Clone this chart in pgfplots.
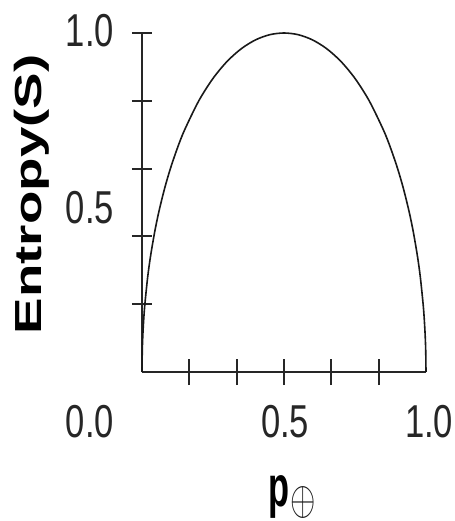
\documentclass[border=0pt]{standalone}
\usepackage{fontspec}
\usepackage{graphicx}
\usepackage{pgfplots}
\pgfplotsset{compat=1.18}
\setmainfont{Liberation Sans}[FakeStretch=0.75]
\newfontfamily\widebold{Liberation Sans}[FakeStretch=1.45]

\begin{document}
\begin{tikzpicture}
\begin{axis}[
    at={(0pt,0pt)}, anchor=south west,
    scale only axis,
    width=213pt, height=254.25pt,
    xmin=0, xmax=1, ymin=0, ymax=1,
    axis lines=left,
    axis line style={-, line width=1.4pt, black!85},
    xtick={0.1667,0.3333,0.5,0.6667,0.8333},
    ytick={0.2,0.4,0.6,0.8,1.0},
    xticklabels={}, yticklabels={},
    tick align=center,
    tick style={line width=1.4pt, black!85},
    xtick style={/pgfplots/major tick length=19.5pt},
    ytick style={/pgfplots/major tick length=15pt},
    clip=false,
]
\addplot[black!90, line width=1.2pt, smooth] coordinates {
    (0,0) (0.001,0.0632) (0.003,0.1094) (0.006,0.1545) (0.01,0.1990)
    (0.02,0.2800) (0.03,0.3412) (0.045,0.4146) (0.06,0.4750) (0.08,0.5426)
    (0.1,0.6000) (0.125,0.6614) (0.15,0.7141) (0.2,0.8000) (0.25,0.8660)
    (0.3,0.9165) (0.35,0.9539) (0.4,0.9798) (0.45,0.9950) (0.5,1.0000)
    (0.55,0.9950) (0.6,0.9798) (0.65,0.9539) (0.7,0.9165) (0.75,0.8660)
    (0.8,0.8000) (0.85,0.7141) (0.875,0.6614) (0.9,0.6000) (0.92,0.5426)
    (0.94,0.4750) (0.955,0.4146) (0.97,0.3412) (0.98,0.2800) (0.99,0.1990)
    (0.994,0.1545) (0.997,0.1094) (0.999,0.0632) (1,0)
};
% tick labels
\begin{scope}[every node/.style={inner sep=0pt, font=\fontsize{34.6}{36}\selectfont, text=black!85}]
\node at (axis cs:-0.183,-0.145) {0.0};
\node at (axis cs:0.504,-0.145) {0.5};
\node at (axis cs:1.011,-0.145) {1.0};
\node at (axis cs:-0.183,1.006) {1.0};
\node at (axis cs:-0.183,0.484) {0.5};
\end{scope}
% axis labels
\node[inner sep=0pt, rotate=90, anchor=base, text=black]
    at (axis cs:-0.355,0.524) {\fontsize{28.3}{30}\selectfont\widebold\bfseries Entropy(S)};
\node[inner sep=0pt, anchor=base west, text=black]
    at (axis cs:0.444,-0.398) {\scalebox{0.8}[1]{\fontsize{43}{45}\selectfont\bfseries p}};
\node[inner sep=0pt, text=black!90]
    at (axis cs:0.567,-0.385) {\resizebox*{19pt}{24pt}{$\oplus$}};
\end{axis}
\pgfresetboundingbox
\path (-106.5pt,-111.75pt) rectangle (234pt,279pt);
\end{tikzpicture}
\end{document}
